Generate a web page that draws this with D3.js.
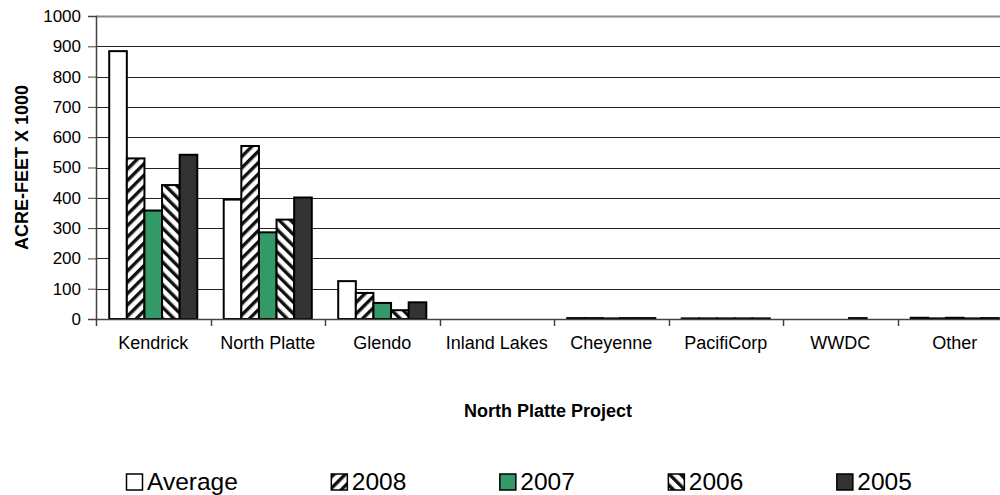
<!DOCTYPE html>
<html>
<head>
<meta charset="utf-8">
<script src="https://cdn.jsdelivr.net/npm/d3@7"></script>
<style>
  body { margin: 0; background: #fff; }
  svg { display: block; }
  svg text { font-family: "Liberation Sans", Arial, sans-serif; }
</style>
</head>
<body>
<svg id="chart"></svg>
<script>
const width = 1000;
const height = 495;

// data (acre-feet x 1000)
const categories = ['Kendrick', 'North Platte', 'Glendo', 'Inland Lakes', 'Cheyenne', 'PacifiCorp', 'WWDC', 'Other'];
const seriesNames = ['Average', '2008', '2007', '2006', '2005'];
const average = [884, 394, 125, 0, 3, 2, 0, 4];
const y2008 = [530, 571, 86, 0, 3, 2, 0, 2];
const y2007 = [358, 286, 53, 0, 2, 2, 0, 4];
const y2006 = [442, 328, 29, 0, 3, 2, 3, 2];
const y2005 = [542, 401, 55, 0, 3, 2, 0, 3];
const yTicks = [0, 100, 200, 300, 400, 500, 600, 700, 800, 900, 1000];

const seriesValues = [average, y2008, y2007, y2006, y2005];
const fills = ['#ffffff', 'url(#up)', '#339966', 'url(#down)', '#333333'];

const margin = { top: 16, left: 96, bottom: 319, right: 1012 };

const svg = d3.select('#chart')
  .attr('width', width)
  .attr('height', height);

// hatch patterns
const defs = svg.append('defs');
const up = defs.append('pattern')
  .attr('id', 'up')
  .attr('patternUnits', 'userSpaceOnUse')
  .attr('width', 8).attr('height', 8)
  .attr('patternTransform', 'rotate(45)');
up.append('rect').attr('width', 8).attr('height', 8).attr('fill', '#fff');
up.append('rect').attr('width', 3.4).attr('height', 8).attr('fill', '#111');

const down = defs.append('pattern')
  .attr('id', 'down')
  .attr('patternUnits', 'userSpaceOnUse')
  .attr('width', 8).attr('height', 8)
  .attr('patternTransform', 'rotate(-45)');
down.append('rect').attr('width', 8).attr('height', 8).attr('fill', '#fff');
down.append('rect').attr('width', 3.4).attr('height', 8).attr('fill', '#111');

const x = d3.scaleBand()
  .domain(categories)
  .range([margin.left, margin.right])
  .padding(0);

const xs = d3.scaleBand()
  .domain(seriesNames)
  .range([0, x.bandwidth()])
  .paddingInner(0)
  .paddingOuter(0.75);

const y = d3.scaleLinear()
  .domain([0, 1000])
  .range([margin.bottom, margin.top]);

// gridlines
svg.append('g')
  .selectAll('line')
  .data(yTicks.slice(1))
  .enter()
  .append('line')
  .attr('x1', margin.left)
  .attr('x2', margin.right)
  .attr('y1', (d) => Math.round(y(d)) + 0.5)
  .attr('y2', (d) => Math.round(y(d)) + 0.5)
  .attr('stroke', (d) => d === 1000 ? '#888' : '#222')
  .attr('stroke-width', (d) => d === 1000 ? 2 : 1);

// bars
const groups = svg.append('g')
  .selectAll('g')
  .data(seriesNames)
  .enter()
  .append('g')
  .attr('fill', (d, i) => fills[i]);

groups.selectAll('rect')
  .data((s, i) => seriesValues[i].map((v, j) => ({ s, v, c: categories[j] })))
  .enter()
  .filter((d) => d.v > 0)
  .append('rect')
  .attr('x', (d) => x(d.c) + xs(d.s))
  .attr('width', xs.bandwidth())
  .attr('y', (d) => y(d.v))
  .attr('height', (d) => y(0) - y(d.v))
  .attr('stroke', '#000')
  .attr('stroke-width', 2);

// y axis
const yAxis = svg.append('g')
  .attr('transform', `translate(${margin.left},0)`)
  .call(d3.axisLeft(y).tickValues(yTicks).tickFormat(d3.format('d')).tickSize(8).tickPadding(7));
yAxis.attr('font-family', null);
yAxis.select('.domain').attr('stroke', '#444').attr('stroke-width', 1.5);
yAxis.selectAll('.tick line').attr('stroke', '#444');
yAxis.selectAll('text').attr('font-size', 17).attr('fill', '#000');

// x axis
const xAxis = svg.append('g')
  .attr('transform', `translate(0,${margin.bottom})`)
  .call(d3.axisBottom(x).tickSize(0).tickPadding(17));
xAxis.attr('font-family', null);
xAxis.select('.domain').attr('stroke', '#444').attr('stroke-width', 1.5);
xAxis.selectAll('text').attr('font-size', 18).attr('fill', '#000');

// ticks at category boundaries
svg.append('g')
  .selectAll('line')
  .data(categories)
  .enter()
  .append('line')
  .attr('x1', (d) => Math.round(x(d)) + 0.5)
  .attr('x2', (d) => Math.round(x(d)) + 0.5)
  .attr('y1', margin.bottom)
  .attr('y2', margin.bottom + 7)
  .attr('stroke', '#444')
  .attr('stroke-width', 1.5);

// axis titles
svg.append('text')
  .attr('x', (margin.left + margin.right) / 2 - 6)
  .attr('y', 417)
  .attr('text-anchor', 'middle')
  .attr('font-size', 18)
  .attr('font-weight', 'bold')
  .text('North Platte Project');

svg.append('text')
  .attr('transform', `translate(28,${(margin.top + margin.bottom) / 2}) rotate(-90)`)
  .attr('text-anchor', 'middle')
  .attr('font-size', 18)
  .attr('font-weight', 'bold')
  .text('ACRE-FEET X 1000');

// legend
const legend = svg.append('g');
let lx = 126;
seriesNames.forEach((name, i) => {
  const item = legend.append('g').attr('transform', `translate(${lx},0)`);
  item.append('rect')
    .attr('x', 0.5)
    .attr('y', 474)
    .attr('width', 16)
    .attr('height', 16)
    .attr('fill', fills[i])
    .attr('stroke', '#000')
    .attr('stroke-width', 1.5);
  const t = item.append('text')
    .attr('x', 21)
    .attr('y', 490)
    .attr('font-size', 24.5)
    .text(name);
  lx += 21 + t.node().getComputedTextLength() + 93;
});
</script>
</body>
</html>
